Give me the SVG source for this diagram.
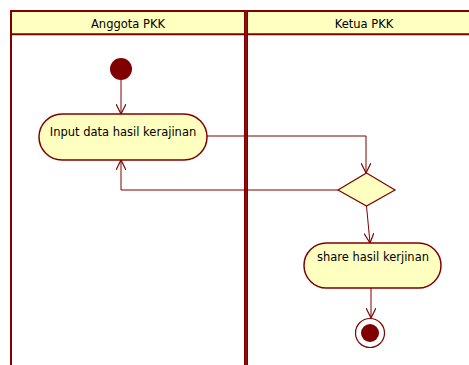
<svg xmlns="http://www.w3.org/2000/svg" width="469" height="365" viewBox="0 0 469 365">
<defs>
<marker id="arr" viewBox="0 0 10 10" refX="10" refY="5" markerWidth="10" markerHeight="10" markerUnits="userSpaceOnUse" orient="auto">
<path d="M0,0 L10,5 L0,10" fill="none" stroke="#800000" stroke-width="1.2"/>
</marker>
<style>
.lane{fill:none;stroke:#800000;stroke-width:2}
.hdr{fill:#FFFFC0;stroke:none}
.txt{font-family:"DejaVu Sans",Verdana,sans-serif;font-size:11.5px;fill:#000;text-anchor:middle}
.act{fill:#FFFFC0;stroke:#800000;stroke-width:1.5}
.dec{fill:#FFFFC0;stroke:#800000;stroke-width:1.2}
.con{fill:none;stroke:#800000;stroke-width:1;marker-end:url(#arr)}
</style>
</defs>
<rect width="469" height="365" fill="#fff"/>
<g id="swimlanes">
<rect class="hdr" x="11" y="11" width="460" height="23"/>
<line class="lane" x1="10" y1="11" x2="469" y2="11"/>
<line class="lane" x1="11" y1="34.3" x2="469" y2="34.3"/>
<line class="lane" x1="11" y1="10" x2="11" y2="365"/>
<line x1="246" y1="10" x2="246" y2="365" stroke="#800000" stroke-width="4"/>
<line x1="246" y1="10" x2="246" y2="365" stroke="#b02020" stroke-width="0.8"/>
<text class="txt" x="128" y="28">Anggota PKK</text>
<text class="txt" x="364" y="28">Ketua PKK</text>
</g>
<g id="connectors">
<path class="con" d="M121,80 L121,114"/>
<path class="con" d="M207,136 L366,136 L366,173"/>
<path class="con" d="M338,190 L121,190 L121,160"/>
<path class="con" d="M366.5,206 L370,243"/>
<path class="con" d="M371,288 L371,318"/>
</g>
<g id="start">
<circle cx="121" cy="69" r="11" fill="#800000"/>
</g>
<g id="input">
<rect class="act" x="39" y="114" width="168" height="46" rx="23"/>
<text class="txt" x="123" y="135.5">Input data hasil kerajinan</text>
</g>
<g id="decision">
<polygon class="dec" points="366.5,173 395,190 366.5,206 338,190"/>
</g>
<g id="share">
<rect class="act" x="304" y="243" width="137" height="45" rx="22.5"/>
<text class="txt" x="373" y="261">share hasil kerjinan</text>
</g>
<g id="end">
<circle cx="370" cy="333" r="14.5" fill="#fff" stroke="#800000" stroke-width="1.2"/>
<circle cx="370" cy="333" r="9" fill="#800000"/>
</g>
</svg>
